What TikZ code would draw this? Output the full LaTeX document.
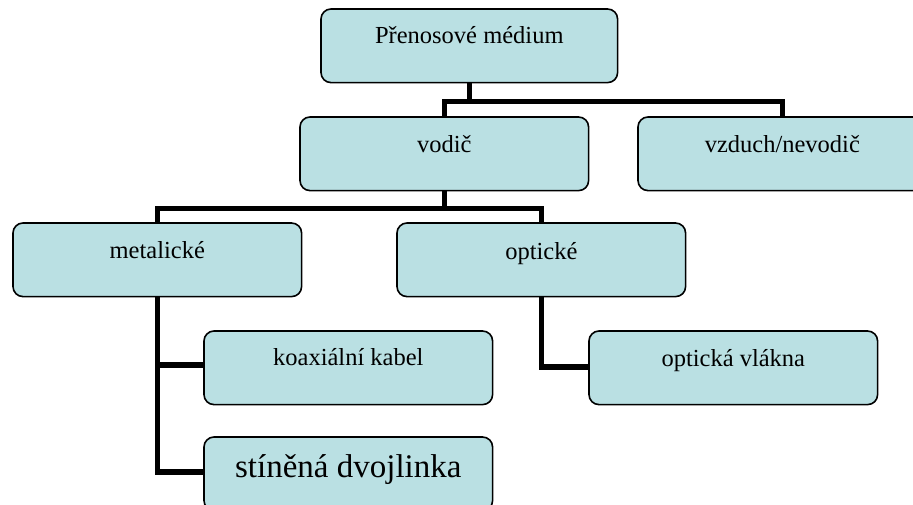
\documentclass[tikz,border=0pt]{standalone}
\usepackage{fontspec}
\setmainfont{Liberation Serif}
\usetikzlibrary{calc}
\definecolor{boxfill}{RGB}{186,224,227}
\tikzset{
  box/.style={draw=black, line width=1.6pt, fill=boxfill, rounded corners=10pt,
    minimum width=287pt, minimum height=72pt, inner sep=0pt, anchor=north west},
  frame/.style={box, draw=none, fill=none},
  conn/.style={draw=black, line width=5.5pt, line join=miter},
  lbl/.style={anchor=base, inner sep=0pt, font=\fontsize{24.5}{29}\selectfont},
  biglbl/.style={anchor=base, inner sep=0pt, font=\fontsize{33}{40}\selectfont}
}
\begin{document}
\begin{tikzpicture}[x=1pt, y=-1pt]
  \useasboundingbox (0,0) rectangle (913,504);
  \clip (0,0) rectangle (913,504);
  % box frames (top-left corners)
  \node[frame, minimum width=295pt] (med) at (321,9) {};
  \node[frame] (vodic)  at (300,117) {};
  \node[frame] (vzduch) at (638,117) {};
  \node[frame] (metal)  at (13,223) {};
  \node[frame] (opt)    at (397,223) {};
  \node[frame] (koax)   at (204,331) {};
  \node[frame] (vlakna) at (589,331) {};
  \node[frame] (stin)   at (204,437) {};

  % connectors, drawn first so the boxes cover their ends
  \draw[conn] (med.south) -- ++(0,19) coordinate (j1);
  \draw[conn] (vodic.north) |- (j1) -| (vzduch.north);
  \draw[conn] (vodic.south) -- ++(0,18) coordinate (j2);
  \draw[conn] (metal.north) |- (j2) -| (opt.north);
  \draw[conn] (metal.south) |- ($(koax.west)+(0,-3)$);
  \draw[conn] (metal.south) |- ($(stin.west)+(0,-2)$);
  \draw[conn] (opt.south) |- ($(vlakna.west)+(0,-1)$);

  % visible boxes
  \foreach \b in {med,vodic,vzduch,metal,opt,koax,vlakna,stin}
    \draw[box] (\b.north west) rectangle (\b.south east);

  % labels
  \node[lbl] (tmed) at ($(med.north)+(0,34)$) {Přenosové médium};
  \node[lbl] (tvod) at ($(vodic.north)+(0,35)$) {vodič};
  \node[lbl] (tvzd) at ($(vzduch.north)+(0,35)$) {vzduch/nevodič};
  \node[lbl] (tmet) at ($(metal.north)+(0,35)$) {metalické};
  \node[lbl] (topt) at ($(opt.north)+(0,36)$) {optické};
  \node[lbl] (tkoa) at ($(koax.north)+(0,34)$) {koaxiální kabel};
  \node[lbl] (tvla) at ($(vlakna.north)+(0,35)$) {optická vlákna};
  \node[biglbl] (tstn) at ($(stin.north)+(0,40)$) {stíněná dvojlinka};
\end{tikzpicture}
\end{document}
